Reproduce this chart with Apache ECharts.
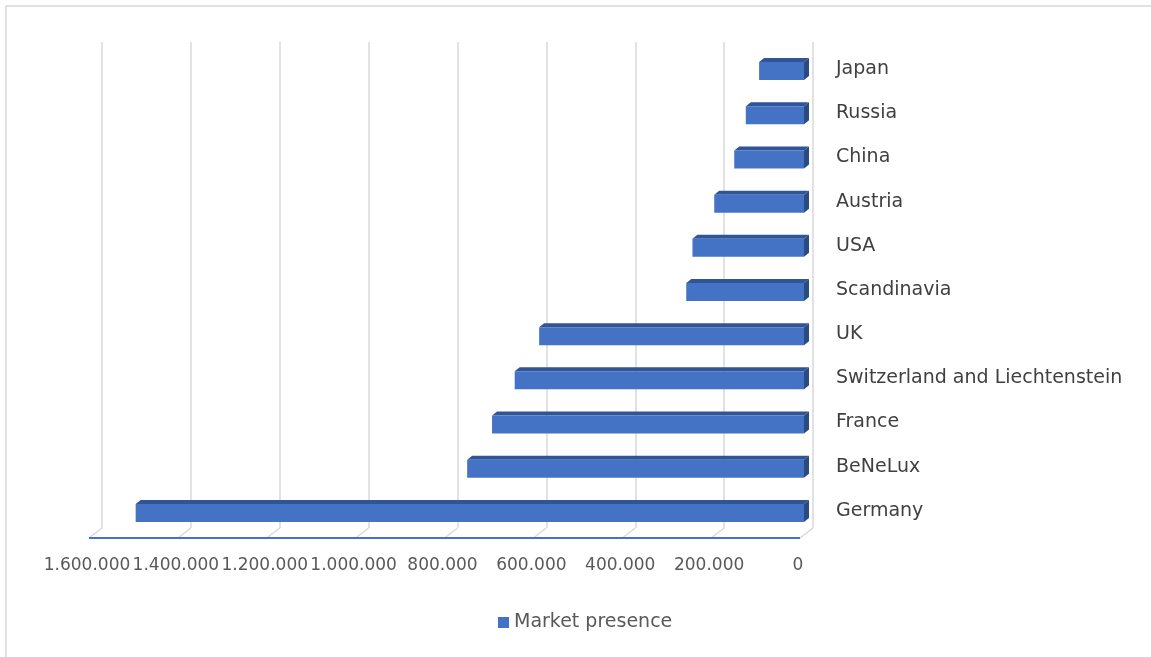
<!DOCTYPE html>
<html>
<head>
<meta charset="utf-8">
<script src="https://cdn.jsdelivr.net/npm/echarts@6/dist/echarts.min.js"></script>
<style>
html,body{margin:0;padding:0;background:#fff;}
#chart{width:1151px;height:657px;}
</style>
</head>
<body>
<div id="chart"></div>
<script>
// Categories listed bottom to top
const categories = ['Germany', 'BeNeLux', 'France', 'Switzerland and Liechtenstein', 'UK', 'Scandinavia', 'USA', 'Austria', 'China', 'Russia', 'Japan'];
const marketPresence = [1504000, 758000, 702000, 651000, 596000, 265000, 251000, 202000, 157000, 131000, 101000];
const tickValues = [0, 200000, 400000, 600000, 800000, 1000000, 1200000, 1400000, 1600000];
const seriesName = 'Market presence';

function fmt(v) {
  return String(v).replace(/\B(?=(\d{3})+(?!\d))/g, '.');
}

const chart = echarts.init(document.getElementById('chart'));

const FRONT_DX = -13, FRONT_DY = 10; // back wall -> front plane
const BAR_SHIFT = -9, DEPTH_X = 5, DEPTH_Y = -4, BAR_H = 18;
const FONT = 'DejaVu Sans';

function renderBar(params, api) {
  const v = api.value(0), ci = api.value(1);
  const p0 = api.coord([0, ci]);
  const p1 = api.coord([v, ci]);
  const xr = p0[0] + BAR_SHIFT, xl = p1[0] + BAR_SHIFT;
  const yt = p0[1] - 2, h = BAR_H;
  return {
    type: 'group',
    children: [
      { type: 'polygon', shape: { points: [[xl, yt], [xl + DEPTH_X, yt + DEPTH_Y], [xr + DEPTH_X, yt + DEPTH_Y], [xr, yt]] }, style: { fill: '#2F5597' } },
      { type: 'polygon', shape: { points: [[xr, yt], [xr + DEPTH_X, yt + DEPTH_Y], [xr + DEPTH_X, yt + DEPTH_Y + h], [xr, yt + h]] }, style: { fill: '#2A4A80' } },
      { type: 'rect', shape: { x: xl, y: yt, width: xr - xl, height: h }, style: { fill: '#4472C4' } }
    ]
  };
}

function renderFloor(params, api) {
  const x = api.coord([api.value(0), 0])[0];
  const bottom = params.coordSys.y + params.coordSys.height;
  return {
    type: 'line',
    shape: { x1: x, y1: bottom, x2: x + FRONT_DX, y2: bottom + FRONT_DY },
    style: { stroke: '#d9d9d9', lineWidth: 1.5 }
  };
}

function renderAxisLine(params, api) {
  const xa = api.coord([api.value(0), 0])[0];
  const xb = api.coord([api.value(1), 0])[0];
  const bottom = params.coordSys.y + params.coordSys.height;
  return {
    type: 'line',
    shape: { x1: xa + FRONT_DX, y1: bottom + FRONT_DY, x2: xb + FRONT_DX, y2: bottom + FRONT_DY },
    style: { stroke: '#4472C4', lineWidth: 2 }
  };
}

chart.setOption({
  animation: false,
  backgroundColor: '#ffffff',
  graphic: [{
    type: 'rect',
    shape: { x: 6, y: 6, width: 1200, height: 700 },
    style: { fill: 'none', stroke: '#d9d9d9', lineWidth: 1.5 },
    silent: true
  }],
  grid: { left: 102, right: 338, top: 42, bottom: 129, containLabel: false },
  xAxis: {
    type: 'value',
    inverse: true,
    min: 0,
    max: 1600000,
    interval: 200000,
    axisLine: { show: false },
    axisTick: { show: false },
    splitLine: { show: true, lineStyle: { color: '#d9d9d9', width: 1.5 } },
    axisLabel: {
      formatter: fmt,
      color: '#595959',
      fontFamily: FONT,
      fontSize: 17,
      margin: 29,
      padding: [0, 30, 0, 0],
      hideOverlap: false,
      showMinLabel: true,
      showMaxLabel: true
    }
  },
  yAxis: {
    type: 'category',
    data: categories,
    position: 'right',
    axisLine: { show: false },
    axisTick: { show: false },
    splitLine: { show: false },
    axisLabel: {
      margin: 23,
      interval: 0,
      formatter: function (v) { return '{c|' + v + '}'; },
      rich: {
        c: {
          color: '#404040',
          fontFamily: FONT,
          fontSize: 19,
          padding: [10, 0, 0, 0]
        }
      }
    }
  },
  legend: {
    data: [seriesName],
    left: 493,
    top: 608,
    icon: 'rect',
    itemWidth: 11,
    itemHeight: 11,
    itemGap: 8,
    textStyle: { color: '#595959', fontFamily: FONT, fontSize: 19 }
  },
  series: [
    {
      type: 'custom',
      name: 'floor',
      renderItem: renderFloor,
      data: tickValues.map(v => [v, 0]),
      encode: { x: 0, y: 1 },
      silent: true,
      z: 1
    },
    {
      type: 'custom',
      name: 'axisline',
      renderItem: renderAxisLine,
      data: [[tickValues[0], tickValues[tickValues.length - 1]]],
      encode: { x: [0, 1] },
      silent: true,
      z: 2
    },
    {
      type: 'custom',
      name: seriesName,
      renderItem: renderBar,
      itemStyle: { color: '#4472C4' },
      data: marketPresence.map((v, i) => [v, i]),
      encode: { x: 0, y: 1 },
      z: 3
    }
  ]
});
</script>
</body>
</html>
